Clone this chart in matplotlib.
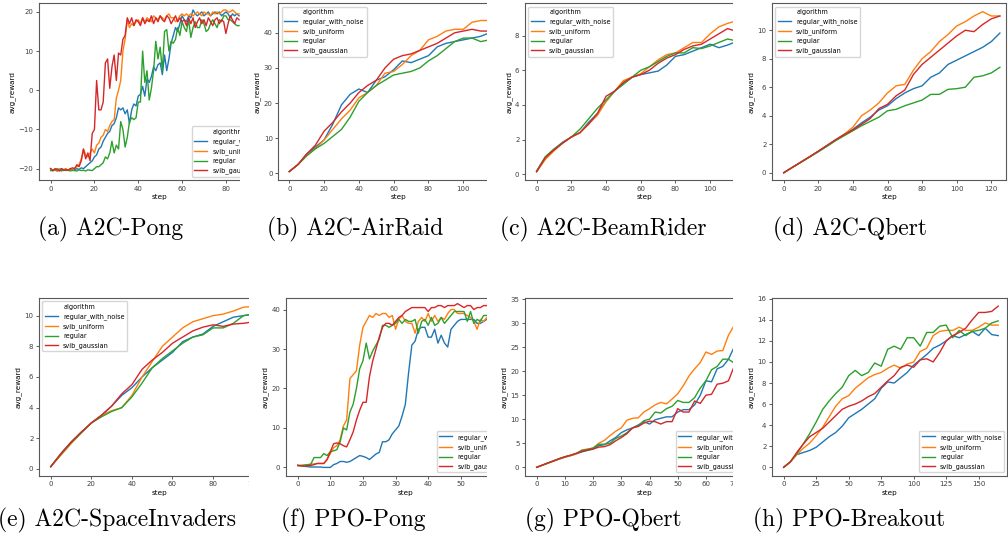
import numpy as np
import matplotlib
matplotlib.use("Agg")
import matplotlib.pyplot as plt
from matplotlib.lines import Line2D
from matplotlib.patches import Rectangle

# ==============================
# Data
# ==============================
algorithms = ["regular_with_noise", "svib_uniform", "regular", "svib_gaussian"]
colors = ["#1f77b4", "#ff7f0e", "#2ca02c", "#d62728"]

# (a) A2C-Pong
a2c_pong_step = list(range(0, 87))
a2c_pong_regular_with_noise = [
    -20, -20.5, -20.4, -20.6, -20.3, -20, -20.5, -20.2, -20.4, -20.1, -20.5, -20.3,
    -20, -20.2, -19.8, -20, -19.5, -19, -18.5, -18, -17, -16.5, -15, -14.5,
    -13, -12, -11, -10.5, -9, -8.5, -7, -4.5, -5, -4.5, -6, -5,
    -8.5, -5, -3.5, -4, -1.5, -1, 1, -1.5, 3, 2, 3.5, 6,
    5, 6.5, 7, 4, 9, 5, 8, 12, 14, 16, 15, 17,
    19, 18, 17.5, 19, 18.5, 20.5, 19.5, 19, 19.5, 20, 19, 19.5,
    20, 19, 19.5, 20, 19.5, 20, 19, 19.5, 20, 19.5, 18.5, 19.5,
    19, 19.5, 19]
a2c_pong_svib_uniform = [
    -20, -20.5, -20.3, -20.6, -20, -20.5, -20.2, -20, -20.4, -20, -20.2, -19.8,
    -19.5, -19, -17.5, -15, -16.5, -17, -16, -15, -16, -14, -13.5, -12,
    -11.5, -10, -10.5, -9, -8, -7.5, -2, 0, 2.5, 10, 13, 18,
    16, 17, 16.5, 17.5, 18, 17, 18.5, 17.5, 18.5, 18, 17.5, 19,
    18.5, 18, 19, 18.5, 18, 19, 19.5, 18.5, 18.5, 17.5, 18, 19,
    19.5, 19, 19.5, 19, 19.5, 19, 19.5, 20, 19.5, 19, 20, 19.5,
    19.5, 19, 20, 19.5, 20, 19.5, 20, 20.5, 20.5, 20, 20, 20.5,
    20, 19.5, 19.5]
a2c_pong_regular = [
    -20.5, -20.5, -20.3, -20, -20.4, -20.6, -20.2, -20.5, -20.3, -20.6, -20.4, -20.5,
    -20.6, -20.3, -20.5, -20.4, -20.6, -20.3, -20.4, -20.5, -20, -19.5, -19.5, -19,
    -18.5, -17, -17.5, -16, -13, -16, -14, -15, -8, -10, -14.5, -12,
    -8, -7, -7.5, -7, -3, -3, 10, 2, 5, -2.5, 0.5, 5,
    12.5, 8, 11, 5, 15, 15.5, 10, 12.5, 12, 13, 16, 14,
    17.5, 16, 15, 18, 13.5, 16, 17.5, 16, 16, 18, 17, 15,
    15.5, 17, 18, 17, 16, 18, 17.5, 19, 19, 18, 18, 17.5,
    17, 16.5, 16.5]
a2c_pong_svib_gaussian = [
    -20, -20.5, -20, -20.3, -20.6, -20, -20.4, -20.2, -20.5, -20, -19.8, -20,
    -19, -19.5, -18, -15, -17.5, -16, -18, -11, -10, 2.5, -5, -5,
    -3, 7, 8, 0.5, 6, 9, 2.5, 9.5, 9, 13, 14, 18.5,
    17, 18.5, 16.5, 18, 17.5, 16.5, 18.5, 17, 18, 17.5, 19, 17,
    18.5, 17.5, 19, 18, 17.5, 19, 18.5, 17, 18, 19, 17.5, 18.5,
    17.5, 18, 16.5, 18.5, 17, 18.5, 16, 17.5, 18.5, 17, 18, 16.5,
    18.5, 17.5, 16.5, 18, 18.5, 17, 18, 17.5, 14.5, 17, 19, 18,
    17, 18.5, 18]

# (b) A2C-AirRaid
a2c_airraid_step = list(range(0, 120, 5))
a2c_airraid_regular_with_noise = [0.5, 2.5, 5.5, 7.5, 9.5, 14, 19.5, 22.5, 24, 23, 26.5, 27.5,
                                  29.5, 32, 31.5, 32.5, 33.5, 36, 37, 37.5, 38, 38.5, 39, 40]
a2c_airraid_svib_uniform = [0.5, 2.5, 5, 7, 9.5, 12.5, 15.5, 18, 21.5, 23, 25, 28.5,
                            29, 31, 33.5, 35, 38, 39, 40.5, 41, 41, 43, 43.5, 43.5]
a2c_airraid_regular = [0.5, 2.5, 5, 7, 8.5, 10.5, 12.5, 16, 20.5, 23, 25, 26.5,
                       28, 28.5, 29, 30, 32, 33.5, 35.5, 37.5, 38.5, 38.5, 37.5, 38]
a2c_airraid_svib_gaussian = [0.5, 2.5, 5.5, 8, 12, 14.5, 17.5, 20, 23, 25, 26.5, 30,
                             32.5, 33.5, 34, 35, 36, 37, 38.5, 40, 40.5, 41, 40.5, 40.5]

# (c) A2C-BeamRider
a2c_beamrider_step = list(range(0, 120, 5))
a2c_beamrider_regular_with_noise = [0.15, 1.0, 1.45, 1.85, 2.15, 2.4, 3.0, 3.5, 4.2, 4.8, 5.2, 5.6,
                                    5.75, 5.85, 5.95, 6.3, 6.8, 6.9, 7.1, 7.3, 7.5, 7.3, 7.45, 7.65]
a2c_beamrider_svib_uniform = [0.15, 0.85, 1.35, 1.8, 2.15, 2.4, 2.9, 3.4, 4.2, 4.8, 5.4, 5.6,
                              5.8, 6.2, 6.6, 6.9, 7.0, 7.3, 7.6, 7.6, 8.1, 8.5, 8.7, 8.85]
a2c_beamrider_regular = [0.2, 1.0, 1.45, 1.8, 2.15, 2.6, 3.2, 3.8, 4.3, 4.8, 5.2, 5.6,
                         6.0, 6.2, 6.5, 6.8, 7.0, 7.0, 7.3, 7.25, 7.4, 7.6, 7.8, 7.7]
a2c_beamrider_svib_gaussian = [0.15, 0.95, 1.4, 1.8, 2.15, 2.4, 2.9, 3.5, 4.5, 4.8, 5.3, 5.6,
                               5.75, 6.0, 6.4, 6.7, 6.9, 7.2, 7.4, 7.5, 7.8, 8.1, 8.4, 8.25]

# (d) A2C-Qbert
a2c_qbert_step = list(range(0, 130, 5))
a2c_qbert_regular_with_noise = [0, 0.38, 0.75, 1.12, 1.5, 1.9, 2.3, 2.7, 3.05, 3.5, 3.9, 4.4, 4.7,
                                5.2, 5.6, 5.9, 6.1, 6.7, 7.0, 7.6, 7.9, 8.2, 8.5, 8.8, 9.2, 9.8]
a2c_qbert_svib_uniform = [0, 0.38, 0.75, 1.12, 1.5, 1.9, 2.3, 2.7, 3.2, 4.0, 4.4, 4.9, 5.6,
                          6.1, 6.2, 7.2, 8.0, 8.5, 9.2, 9.7, 10.3, 10.6, 11.0, 11.3, 11.0, 11.0]
a2c_qbert_regular = [0, 0.37, 0.73, 1.1, 1.47, 1.85, 2.25, 2.6, 2.95, 3.3, 3.6, 3.9, 4.35,
                     4.45, 4.7, 4.9, 5.1, 5.5, 5.5, 5.85, 5.9, 6.0, 6.7, 6.8, 7.0, 7.4]
a2c_qbert_svib_gaussian = [0, 0.38, 0.76, 1.13, 1.52, 1.92, 2.32, 2.68, 3.0, 3.4, 3.8, 4.5, 4.8,
                           5.4, 5.8, 6.9, 7.6, 8.1, 8.6, 9.1, 9.6, 10.0, 9.9, 10.4, 10.8, 11.0]

# (e) A2C-SpaceInvaders
a2c_spaceinvaders_step = list(range(0, 105, 5))
a2c_spaceinvaders_regular_with_noise = [0.15, 1.0, 1.75, 2.4, 3.0, 3.5, 4.1, 4.8, 5.3, 6.0, 6.6,
                                        7.1, 7.6, 8.3, 8.6, 8.8, 9.3, 9.6, 9.9, 10.0, 10.1]
a2c_spaceinvaders_svib_uniform = [0.15, 0.9, 1.65, 2.35, 3.0, 3.5, 3.8, 4.0, 4.8, 6.0, 7.0,
                                  8.0, 8.6, 9.2, 9.6, 9.8, 10.0, 10.1, 10.3, 10.55, 10.6]
a2c_spaceinvaders_regular = [0.15, 0.95, 1.7, 2.35, 3.0, 3.4, 3.75, 4.0, 4.7, 5.6, 6.6,
                             7.2, 7.7, 8.2, 8.6, 8.75, 9.2, 9.2, 9.5, 10.0, 10.1]
a2c_spaceinvaders_svib_gaussian = [0.15, 1.0, 1.75, 2.4, 3.0, 3.5, 4.1, 4.9, 5.5, 6.5, 7.1,
                                   7.6, 8.2, 8.6, 9.0, 9.25, 9.4, 9.3, 9.45, 9.5, 9.6]

# (f) PPO-Pong
ppo_pong_step = list(range(0, 61))
ppo_pong_regular_with_noise = [
    0.5, 0.4, 0.3, 0.2, 0.1, 0.1, 0.1, 0.1, 0.0, 0.0,
    0.0, 0.7, 1.0, 1.5, 1.5, 1.3, 1.5, 2.0, 2.5, 3.0,
    2.8, 2.5, 2.0, 2.7, 3.4, 3.8, 6.5, 6.5, 7.0, 8.5,
    9.5, 10.5, 13.0, 16.0, 24.0, 31.0, 32.0, 35.0, 35.5, 35.5,
    33.0, 33.0, 35.0, 31.5, 33.5, 31.5, 30.5, 35.0, 36.0, 37.0,
    37.5, 37.5, 37.5, 37.5, 37.5, 36.5, 36.5, 37.0, 37.5, 37.5, 37.5]
ppo_pong_svib_uniform = [
    0.5, 0.5, 0.5, 0.6, 0.8, 0.9, 1.0, 1.0, 1.0, 2.0,
    3.5, 5.0, 5.5, 7.0, 10.5, 12.0, 22.5, 23.5, 24.5, 31.0,
    35.5, 37.0, 38.5, 38.0, 39.0, 38.5, 39.0, 39.0, 38.0, 38.5,
    35.0, 37.5, 38.5, 37.0, 36.5, 36.5, 34.0, 37.0, 38.0, 37.0,
    39.0, 37.0, 38.5, 37.0, 38.0, 37.5, 39.0, 40.0, 40.0, 39.0,
    39.0, 39.0, 38.5, 38.0, 37.0, 35.0, 37.5, 37.0, 38.0, 38.0, 38.0]
ppo_pong_regular = [
    0.5, 0.5, 0.6, 0.7, 0.8, 2.5, 2.5, 2.5, 3.5, 3.0,
    4.0, 4.2, 4.5, 6.5, 10.0, 9.5, 14.0, 16.0, 20.0, 25.0,
    27.0, 31.5, 27.5, 29.5, 31.0, 32.5, 36.0, 36.0, 35.5, 36.0,
    36.5, 37.5, 36.5, 37.5, 37.0, 37.0, 37.5, 34.0, 37.0, 37.5,
    36.0, 38.0, 36.0, 36.5, 38.0, 36.5, 37.5, 38.5, 39.5, 39.5,
    39.5, 39.5, 37.0, 39.5, 36.5, 37.5, 37.0, 38.5, 38.5, 38.5, 38.5]
ppo_pong_svib_gaussian = [
    0.5, 0.4, 0.3, 0.4, 0.5, 0.7, 1.0, 1.0, 1.0, 2.0,
    4.0, 6.0, 6.2, 6.0, 5.5, 5.2, 7.0, 9.0, 12.0, 14.5,
    16.5, 16.5, 23.0, 27.0, 30.0, 33.0, 35.5, 36.5, 36.5, 36.0,
    37.0, 38.0, 38.5, 39.5, 40.0, 40.5, 40.5, 40.5, 40.5, 40.5,
    39.5, 40.5, 40.5, 41.0, 41.0, 40.5, 41.0, 41.0, 41.0, 41.5,
    41.0, 40.5, 41.0, 41.0, 40.0, 40.5, 40.5, 41.0, 41.0, 41.0, 41.0]

# (g) PPO-Qbert
ppo_qbert_step = list(range(0, 72, 2))
ppo_qbert_regular_with_noise = [0, 0.45, 0.9, 1.3, 1.75, 2.1, 2.45, 2.8, 3.2, 3.5,
                                3.8, 4.5, 4.7, 5.5, 6.2, 7.2, 7.8, 8.2, 8.8, 9.5,
                                9.0, 9.9, 10.2, 10.5, 10.5, 11.5, 12.0, 12.0, 13.0, 15.0,
                                18.0, 17.8, 20.5, 21.0, 22.5, 25.0]
ppo_qbert_svib_uniform = [0, 0.4, 0.85, 1.3, 1.7, 2.1, 2.4, 2.75, 3.6, 3.8,
                          4.0, 5.0, 5.6, 6.6, 7.5, 8.2, 9.8, 10.2, 10.3, 11.5,
                          12.2, 13.0, 13.5, 13.2, 14.2, 15.3, 17.0, 19.0, 20.5, 21.8,
                          24.0, 23.5, 24.2, 24.3, 27.5, 29.5]
ppo_qbert_regular = [0, 0.45, 0.9, 1.35, 1.8, 2.2, 2.5, 2.9, 3.5, 3.7,
                     4.0, 4.8, 4.8, 5.0, 6.0, 6.5, 7.2, 8.2, 8.6, 9.7,
                     10.0, 11.5, 11.3, 12.2, 12.7, 13.9, 13.5, 13.5, 14.5, 16.5,
                     18.0, 20.3, 21.0, 22.5, 22.5, 21.7]
ppo_qbert_svib_gaussian = [0, 0.45, 0.9, 1.35, 1.8, 2.2, 2.5, 2.9, 3.3, 3.6,
                           3.8, 4.2, 4.3, 4.7, 5.5, 6.2, 7.0, 8.2, 8.5, 9.2,
                           9.6, 9.5, 9.0, 9.5, 9.5, 12.2, 11.5, 11.5, 13.8, 13.3,
                           15.0, 15.2, 17.3, 17.5, 18.0, 21.0]

# (h) PPO-Breakout
ppo_breakout_step = list(range(0, 170, 5))
ppo_breakout_regular_with_noise = [0, 0.5, 1.2, 1.4, 1.6, 1.9, 2.4, 2.9, 3.3, 3.9,
                                   4.7, 5.1, 5.5, 6.0, 6.5, 7.5, 8.1, 8.0, 8.5, 9.0,
                                   9.7, 10.2, 10.7, 11.3, 11.6, 12.0, 12.5, 12.3, 12.6, 12.9,
                                   12.5, 13.2, 12.6, 12.5]
ppo_breakout_svib_uniform = [0, 0.5, 1.2, 1.8, 2.3, 3.0, 3.8, 4.8, 5.8, 6.5,
                             6.8, 7.5, 8.0, 8.5, 8.8, 9.0, 9.4, 9.7, 9.4, 9.8,
                             10.0, 11.0, 11.3, 12.5, 12.9, 13.0, 13.0, 13.3, 13.0, 13.0,
                             13.3, 13.7, 13.5, 13.5]
ppo_breakout_regular = [0, 0.5, 1.3, 2.2, 3.2, 4.3, 5.5, 6.3, 7.0, 7.6,
                        8.7, 9.2, 8.7, 9.0, 9.9, 9.6, 11.2, 11.5, 11.2, 12.3,
                        12.3, 11.5, 12.8, 12.8, 13.4, 13.5, 12.3, 13.0, 12.5, 12.9,
                        13.0, 13.2, 13.7, 13.9]
ppo_breakout_svib_gaussian = [0, 0.5, 1.4, 2.2, 2.9, 3.3, 3.7, 4.3, 4.9, 5.5,
                              5.8, 6.0, 6.3, 6.7, 7.0, 7.6, 8.2, 8.7, 9.5, 9.7,
                              9.5, 10.2, 10.3, 10.0, 10.9, 12.0, 12.5, 12.8, 13.2, 14.0,
                              14.7, 14.7, 14.8, 15.3]

captions = ["(a) A2C-Pong", "(b) A2C-AirRaid", "(c) A2C-BeamRider", "(d) A2C-Qbert",
            "(e) A2C-SpaceInvaders", "(f) PPO-Pong", "(g) PPO-Qbert", "(h) PPO-Breakout"]

# ==============================
# Layout (pixels of a 1008x535 figure)
# ==============================
W, H = 1008, 535

panels = [
    # step, series, frame left/right px, top/bottom px, xlim, ylim, crop px, legend loc, legend title
    (a2c_pong_step, [a2c_pong_regular_with_noise, a2c_pong_svib_uniform, a2c_pong_regular, a2c_pong_svib_gaussian],
     39, 280, 3.3, 180, (-5.3, 104.7), (-22.9, 22.2), 240, "lower right", True),
    (a2c_airraid_step, [a2c_airraid_regular_with_noise, a2c_airraid_svib_uniform, a2c_airraid_regular, a2c_airraid_svib_gaussian],
     278.3, 519, 3.3, 180, (-6.3, 132.0), (-1.9, 48.4), 486.7, "upper left", True),
    (a2c_beamrider_step, [a2c_beamrider_regular_with_noise, a2c_beamrider_svib_uniform, a2c_beamrider_regular, a2c_beamrider_svib_gaussian],
     525, 765, 3.3, 180, (-6.7, 131.6), (-0.33, 9.86), 733.3, "upper left", True),
    (a2c_qbert_step, [a2c_qbert_regular_with_noise, a2c_qbert_svib_uniform, a2c_qbert_regular, a2c_qbert_svib_gaussian],
     772, 1006.3, 3.3, 180, (-6.8, 128.7), (-0.51, 11.89), None, "upper left", True),
    (a2c_spaceinvaders_step, [a2c_spaceinvaders_regular_with_noise, a2c_spaceinvaders_svib_uniform, a2c_spaceinvaders_regular, a2c_spaceinvaders_svib_gaussian],
     39, 280, 297.7, 475.7, (-5.8, 113.0), (-0.44, 11.17), 248.5, "upper left", True),
    (ppo_pong_step, [ppo_pong_regular_with_noise, ppo_pong_svib_uniform, ppo_pong_regular, ppo_pong_svib_gaussian],
     286, 525, 297.7, 475.7, (-3.6, 69.7), (-2.1, 43.0), 486.7, "lower right", False),
    (ppo_qbert_step, [ppo_qbert_regular_with_noise, ppo_qbert_svib_uniform, ppo_qbert_regular, ppo_qbert_svib_gaussian],
     525, 764, 297.7, 475.7, (-4.15, 80.6), (-1.75, 35.3), 733.3, "lower right", False),
    (ppo_breakout_step, [ppo_breakout_regular_with_noise, ppo_breakout_svib_uniform, ppo_breakout_regular, ppo_breakout_svib_gaussian],
     772, 1007.3, 297.7, 475.7, (-9.0, 172.0), (-0.8, 16.1), None, "lower right", False),
]

caption_x = [111, 355, 603, 850, 117, 353, 603, 849]
caption_y = [229, 229, 229, 229, 520, 520, 520, 520]

# ==============================
# Plot
# ==============================
fig = plt.figure(figsize=(W / 100, H / 100), dpi=100)

for (step, series, left, right, top, bottom, xlim, ylim, crop, loc, has_title) in panels:
    ax = fig.add_axes([left / W, 1 - bottom / H, (right - left) / W, (bottom - top) / H])
    lines = []
    for values, color in zip(series, colors):
        ln, = ax.plot(step, values, color=color, linewidth=1.0)
        lines.append(ln)
    ax.set_xlim(*xlim)
    ax.set_ylim(*ylim)
    ax.set_xlabel("step", fontsize=5.2, labelpad=2)
    ax.set_ylabel("avg_reward", fontsize=5.2, labelpad=2)
    ax.tick_params(labelsize=5, length=2.5, width=0.6, pad=1.5, colors="0.25")
    for sp in ax.spines.values():
        sp.set_linewidth(0.8)
        sp.set_color("0.35")

    handles = list(lines)
    labels = list(algorithms)
    if has_title:
        handles = [Line2D([], [], color="none")] + handles
        labels = ["algorithm"] + labels
    ax.legend(handles, labels, loc=loc, fontsize=4.7, handlelength=2.0, borderaxespad=0.5)

    # the reference panels were cropped on the right
    if crop is not None:
        row_top = 0 if top < 100 else 285
        ax.add_artist(Rectangle((crop / W, 1 - (row_top + 215) / H), 45 / W, 215 / H,
                                transform=fig.transFigure, facecolor="white",
                                edgecolor="none", zorder=100, clip_on=False))

for text, x, y in zip(captions, caption_x, caption_y):
    fig.text(x / W, 1 - y / H, text, fontfamily="cmr10", fontsize=17,
             ha="center", va="center")

fig.savefig("out.png", dpi=100)
